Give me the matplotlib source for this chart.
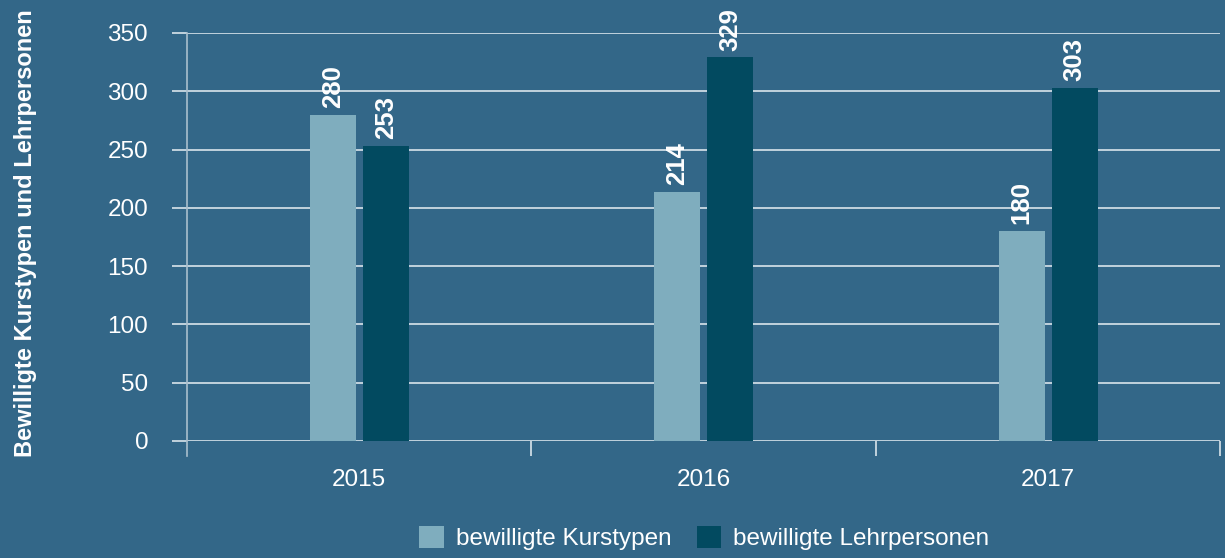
import numpy as np
import matplotlib.pyplot as plt

# Daten
jahre = ["2015", "2016", "2017"]
kurstypen = [280, 214, 180]
lehrpersonen = [253, 329, 303]
serien = ["bewilligte Kurstypen", "bewilligte Lehrpersonen"]

bg = "#336788"
hell = "#7fadbe"
dunkel = "#024a60"
linie = "#d9e4eb"

plt.rcParams['font.family'] = ['Liberation Sans', 'DejaVu Sans']

fig = plt.figure(figsize=(12.25, 5.58), dpi=100, facecolor=bg)
ax = fig.add_axes([0.1527, 0.2097, 0.8435, 0.7312], facecolor=bg)

x = np.arange(len(jahre))
w = 0.134
b1 = ax.bar(x - w / 2 - 0.01, kurstypen, w, color=hell, label=serien[0], zorder=3)
b2 = ax.bar(x + w / 2 + 0.01, lehrpersonen, w, color=dunkel, label=serien[1], zorder=3)

for bars in (b1, b2):
    for r in bars:
        ax.annotate(f"{int(r.get_height())}", (r.get_x() + r.get_width() / 2, r.get_height()),
                    xytext=(0, 5), textcoords="offset points", rotation=90,
                    ha="center", va="bottom", color="white", fontsize=18.5, fontweight="bold")

ax.set_xlim(-0.5, 2.5)
ax.set_ylim(0, 350)
ax.set_yticks(np.arange(0, 351, 50))
ax.grid(axis="y", color=linie, linewidth=1.2, zorder=1)
ax.set_axisbelow(True)

ax.set_xticks(x)
ax.set_xticklabels(jahre)
ax.set_xticks([0.5, 1.5, 2.5], minor=True)
ax.tick_params(axis="x", which="major", length=0, pad=20, labelsize=17.5, labelcolor="white")
ax.tick_params(axis="x", which="minor", length=11, width=1.2, color=linie)
ax.tick_params(axis="y", length=11, width=1.2, color=linie, pad=17, labelsize=17.5, labelcolor="white")

for s in ["top", "right", "bottom"]:
    ax.spines[s].set_visible(False)
ax.spines["left"].set_color("#a9bfcd")
ax.spines["left"].set_linewidth(1.2)
ax.spines["left"].set_bounds(0, 350)

# linke Achse etwas nach unten verlängern
ax.plot([-0.5, -0.5], [0, -13], color="#a9bfcd", lw=1.2, clip_on=False)

ax.set_ylabel("Bewilligte Kurstypen und Lehrpersonen", fontsize=17, fontweight="bold",
              color="white", labelpad=0)
ax.yaxis.set_label_coords(-0.145, 0.51)

leg = fig.legend(loc="center", bbox_to_anchor=(0.575, 0.036), ncol=2, frameon=False,
                 fontsize=17.5, handlelength=1.0, handleheight=1.0, columnspacing=1.05,
                 handletextpad=0.5, labelcolor="white")

plt.savefig("out.png", dpi=100, facecolor=bg)
